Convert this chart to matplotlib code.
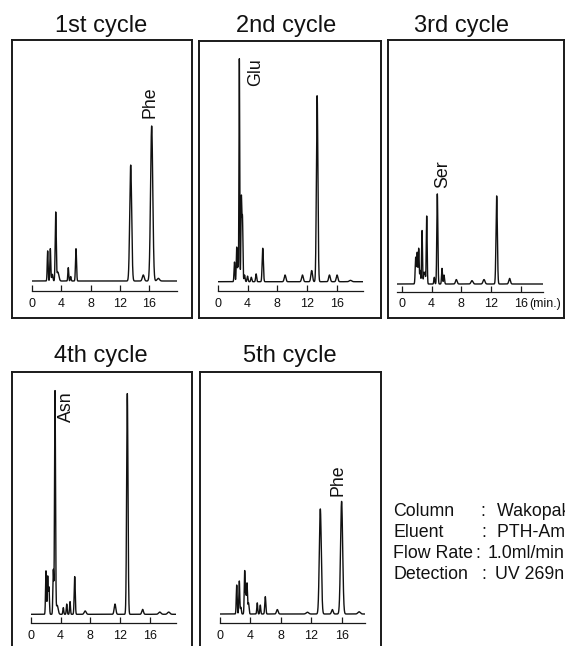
import numpy as np
import matplotlib
matplotlib.use("Agg")
import matplotlib.pyplot as plt

plt.rcParams['font.family'] = ['Liberation Sans', 'DejaVu Sans']

# ---------------- data ----------------
cycles = ["1st cycle", "2nd cycle", "3rd cycle", "4th cycle", "5th cycle"]
tick_values = [0, 4, 8, 12, 16]
tick_labels = ["0", "4", "8", "12", "16"]
time_unit = "(min.)"

# peak tables: retention time (min), relative height, width (sigma, min)
c1_time = [2.17, 2.53, 2.8, 3.26, 3.55, 4.97, 5.3, 6.02, 13.45, 15.16, 16.3, 17.2]
c1_height = [0.135, 0.145, 0.03, 0.305, 0.04, 0.06, 0.02, 0.145, 0.52, 0.027, 0.695, 0.012]
c1_width = [0.06, 0.06, 0.08, 0.07, 0.14, 0.06, 0.06, 0.07, 0.13, 0.13, 0.15, 0.16]

c2_time = [2.25, 2.55, 2.72, 2.9, 3.17, 3.32, 3.6, 4.0, 4.5, 5.15, 6.04, 9.03, 11.36, 12.6, 13.33, 14.98, 16.0, 17.8]
c2_height = [0.088, 0.155, 0.07, 1.0, 0.375, 0.28, 0.03, 0.025, 0.02, 0.035, 0.15, 0.03, 0.03, 0.05, 0.834, 0.03, 0.03, 0.006]
c2_width = [0.06, 0.06, 0.05, 0.05, 0.06, 0.06, 0.07, 0.07, 0.07, 0.07, 0.08, 0.11, 0.11, 0.11, 0.1, 0.11, 0.11, 0.16]

c3_time = [1.85, 2.05, 2.25, 2.45, 2.7, 2.95, 3.1, 3.33, 4.35, 4.76, 5.39, 5.66, 7.32, 9.43, 11.05, 12.76, 14.5]
c3_height = [0.12, 0.14, 0.16, 0.06, 0.24, 0.05, 0.05, 0.305, 0.03, 0.404, 0.07, 0.04, 0.02, 0.015, 0.02, 0.395, 0.025]
c3_width = [0.07, 0.06, 0.06, 0.06, 0.06, 0.06, 0.06, 0.06, 0.06, 0.07, 0.06, 0.07, 0.11, 0.13, 0.13, 0.09, 0.11]

c4_time = [2.05, 2.28, 2.45, 3.03, 3.26, 3.55, 4.37, 4.83, 5.27, 5.9, 7.3, 11.3, 12.95, 15.0, 17.3, 18.5]
c4_height = [0.195, 0.17, 0.12, 0.2, 1.0, 0.04, 0.03, 0.046, 0.057, 0.169, 0.015, 0.046, 0.99, 0.022, 0.01, 0.01]
c4_width = [0.06, 0.06, 0.06, 0.06, 0.065, 0.13, 0.06, 0.06, 0.06, 0.07, 0.13, 0.11, 0.09, 0.11, 0.16, 0.16]

c5_time = [2.2, 2.54, 2.75, 3.25, 3.4, 3.55, 3.75, 4.9, 5.3, 5.96, 7.54, 11.5, 13.2, 14.78, 16.0, 18.3]
c5_height = [0.13, 0.148, 0.03, 0.194, 0.08, 0.138, 0.05, 0.05, 0.04, 0.078, 0.02, 0.008, 0.471, 0.02, 0.505, 0.01]
c5_width = [0.06, 0.06, 0.06, 0.06, 0.05, 0.06, 0.07, 0.06, 0.06, 0.07, 0.11, 0.16, 0.13, 0.11, 0.14, 0.16]

peak_names = ["Phe", "Glu", "Ser", "Asn", "Phe"]

cond_labels = ["Column", "Eluent", "Flow Rate", "Detection"]
cond_values = ["Wakopak Handy ODS", "PTH-Amino Acids Mobile Phase", "1.0ml/min", "UV 269nm"]

series = [
    (c1_time, c1_height, c1_width),
    (c2_time, c2_height, c2_width),
    (c3_time, c3_height, c3_width),
    (c4_time, c4_height, c4_width),
    (c5_time, c5_height, c5_width),
]

# ---------------- layout (pixels) ----------------
W, H = 565, 646
UNIT = 223.0  # px per relative height unit
layout = [
    dict(box=(11.7, 40, 191.7, 318), x0=31.7, sc=7.36, xmin=0, xmax=19.8, ay=291, by=281,
         tx=101.5, ty=31.7, lab=(16.1, 0.73, 'bottom')),
    dict(box=(199.3, 40.5, 380.7, 318), x0=217.7, sc=7.46, xmin=0, xmax=19.5, ay=291, by=281.7,
         tx=286.2, ty=31.7, lab=(5.1, 1.003, 'top')),
    dict(box=(387.7, 40, 563.5, 318), x0=402.0, sc=7.42, xmin=-0.63, xmax=19.0, ay=291.7, by=284,
         tx=461.7, ty=31.7, lab=(5.49, 0.429, 'bottom')),
    dict(box=(11.7, 372.3, 191.7, 652), x0=30.7, sc=7.46, xmin=0, xmax=19.45, ay=623.3, by=614.3,
         tx=100.7, ty=362, lab=(4.83, 0.998, 'top')),
    dict(box=(200, 372.3, 380.7, 652), x0=220.0, sc=7.6, xmin=0, xmax=19.07, ay=623.3, by=614,
         tx=289.5, ty=362, lab=(15.49, 0.53, 'bottom')),
]

INK = '#111111'
TICK_FS = 9.0
COND_FS = 12.8

fig = plt.figure(figsize=(W / 100, H / 100), dpi=100)


def fx(px):
    return px / W


def fy(py):
    return 1 - py / H


for i, L in enumerate(layout):
    l, t, r, b = L['box']
    frame = fig.add_axes([fx(l), fy(b), (r - l) / W, (b - t) / H])
    frame.set_xticks([])
    frame.set_yticks([])
    frame.patch.set_facecolor('white')
    for s in frame.spines.values():
        s.set_linewidth(1.4)
        s.set_color('#1a1a1a')

    # data axes
    x_start = L['x0'] + L['xmin'] * L['sc']
    x_end = L['x0'] + L['xmax'] * L['sc']
    ax = fig.add_axes([fx(x_start), fy(L['ay']), (x_end - x_start) / W, (L['ay'] - t) / H])
    ax.patch.set_visible(False)
    ax.set_xlim(L['xmin'], L['xmax'])
    ax.set_ylim(-(L['ay'] - L['by']) / UNIT, (L['by'] - t) / UNIT)
    for sp in ['left', 'top', 'right']:
        ax.spines[sp].set_visible(False)
    ax.spines['bottom'].set_linewidth(0.9)
    ax.spines['bottom'].set_color('#1a1a1a')
    ax.set_yticks([])
    ax.set_xticks(tick_values)
    ax.set_xticklabels(tick_labels)
    ax.tick_params(axis='x', direction='in', length=4, width=0.9, pad=4.8,
                   labelsize=TICK_FS, color='#1a1a1a', labelcolor=INK)

    tr, hh, ww = series[i]
    tgrid = np.linspace(L['xmin'], L['xmax'], 4000)
    sig = np.zeros_like(tgrid)
    for a, h, w in zip(tr, hh, ww):
        sig += h * np.exp(-0.5 * ((tgrid - a) / w) ** 2)
    ax.plot(tgrid, sig, color=INK, lw=1.0)

    lt, lh, lva = L['lab']
    ax.text(lt, lh, peak_names[i], rotation=90, ha='center', va=lva,
            fontsize=12.8, color=INK)

    fig.text(fx(L['tx']), fy(L['ty']), cycles[i], ha='center', va='baseline',
             fontsize=17, color=INK)

# time unit after the last tick of the 3rd panel
fig.text(fx(529.0), fy(306.7), time_unit, ha='left', va='baseline',
         fontsize=TICK_FS, color=INK)

# conditions block
cond_base = [516, 537, 558, 579]
colon_x = [483.3, 484.3, 477.5, 484.3]
value_x = [496.7, 497.3, 487.5, 495.0]
for k in range(4):
    fig.text(fx(393.3), fy(cond_base[k]), cond_labels[k], ha='left', va='baseline',
             fontsize=COND_FS, color=INK)
    fig.text(fx(colon_x[k]), fy(cond_base[k]), ":", ha='center', va='baseline',
             fontsize=COND_FS, color=INK)
    fig.text(fx(value_x[k]), fy(cond_base[k]), cond_values[k], ha='left', va='baseline',
             fontsize=COND_FS, color=INK)

fig.savefig("out.png", dpi=100, facecolor='white')
